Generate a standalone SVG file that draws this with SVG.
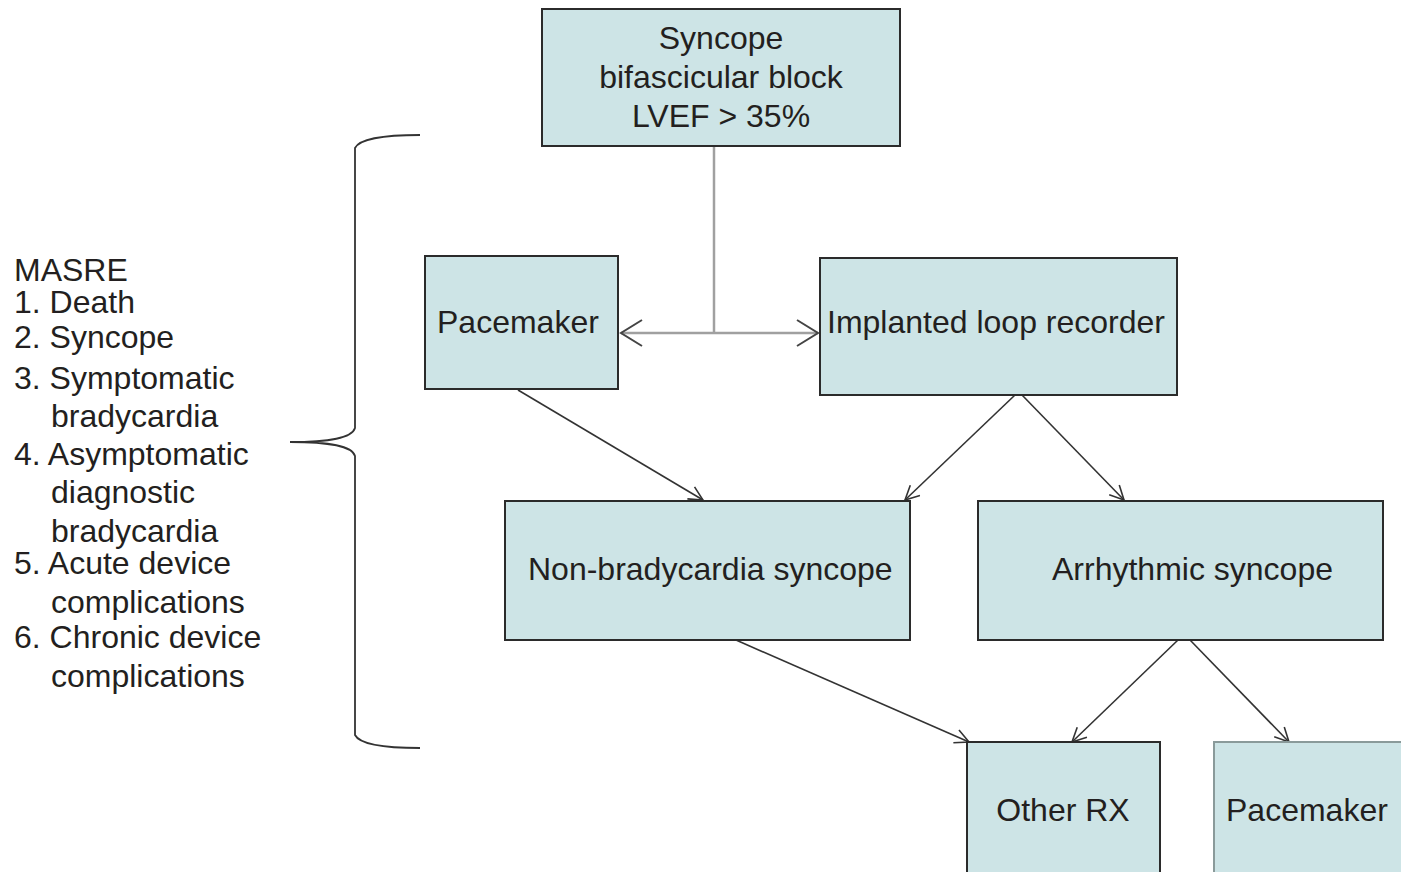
<svg xmlns="http://www.w3.org/2000/svg" width="1401" height="872" viewBox="0 0 1401 872">
<style>
.box{fill:#cde4e6;stroke:#2b2b2b;stroke-width:2}
.t{font-family:"Liberation Sans",Arial,sans-serif;font-size:32px;fill:#231f20}
.c{text-anchor:middle}
.lg{fill:none;stroke:#a0a0a0;stroke-width:2.5}
.ln{fill:none;stroke:#333;stroke-width:1.6}
</style>
<defs>
<marker id="big" viewBox="0 0 24 28" markerWidth="24" markerHeight="28" refX="22" refY="14" orient="auto-start-reverse" markerUnits="userSpaceOnUse">
<path d="M1,1 L22,14 L1,27" fill="none" stroke="#444" stroke-width="2"/>
</marker>
<marker id="sm" viewBox="0 0 16 16" markerWidth="16" markerHeight="16" refX="15" refY="8" orient="auto" markerUnits="userSpaceOnUse">
<path d="M1,1 L15,8 L1,15" fill="none" stroke="#333" stroke-width="1.6"/>
</marker>
</defs>
<g id="legend">
<text class="t" x="14" y="281">MASRE</text>
<text class="t" x="14" y="313">1. Death</text>
<text class="t" x="14" y="348">2. Syncope</text>
<text class="t" x="14" y="389">3. Symptomatic</text>
<text class="t" x="51" y="427">bradycardia</text>
<text class="t" x="14" y="465">4. Asymptomatic</text>
<text class="t" x="51" y="503">diagnostic</text>
<text class="t" x="51" y="542">bradycardia</text>
<text class="t" x="14" y="574">5. Acute device</text>
<text class="t" x="51" y="613">complications</text>
<text class="t" x="14" y="648">6. Chronic device</text>
<text class="t" x="51" y="687">complications</text>
</g>
<g id="brace">
<path d="M420,135 C385,135 360,138 355,148 L355,428 C352,438 330,442 290,442 C330,442 352,446 355,456 L355,735 C360,745 385,748 420,748" fill="none" stroke="#333" stroke-width="1.8"/>
</g>
<g id="connectors">
<path class="lg" d="M714,146 L714,333"/>
<path class="lg" d="M621,333 L818,333" marker-start="url(#big)" marker-end="url(#big)"/>
<path class="ln" d="M518,390 L703,500" marker-end="url(#sm)"/>
<path class="ln" d="M1015,395 L905,500" marker-end="url(#sm)"/>
<path class="ln" d="M1022,395 L1124,500" marker-end="url(#sm)"/>
<path class="ln" d="M736,640 L969,742" marker-end="url(#sm)"/>
<path class="ln" d="M1178,640 L1072,742" marker-end="url(#sm)"/>
<path class="ln" d="M1190,640 L1289,742" marker-end="url(#sm)"/>
</g>
<g id="n-top">
<rect class="box" x="542" y="9" width="358" height="137"/>
<text class="t c" x="721" y="49">Syncope</text>
<text class="t c" x="721" y="88">bifascicular block</text>
<text class="t c" x="721" y="127">LVEF &gt; 35%</text>
</g>
<g id="n-pacemaker">
<rect class="box" x="425" y="256" width="193" height="133"/>
<text class="t" x="437" y="333">Pacemaker</text>
</g>
<g id="n-ilr">
<rect class="box" x="820" y="258" width="357" height="137"/>
<text class="t" x="827" y="333">Implanted loop recorder</text>
</g>
<g id="n-nonbrady">
<rect class="box" x="505" y="501" width="405" height="139"/>
<text class="t" x="528" y="580">Non-bradycardia syncope</text>
</g>
<g id="n-arrhythmic">
<rect class="box" x="978" y="501" width="405" height="139"/>
<text class="t" x="1052" y="580">Arrhythmic syncope</text>
</g>
<g id="n-otherrx">
<rect class="box" x="967" y="742" width="193" height="140"/>
<text class="t c" x="1063" y="821">Other RX</text>
</g>
<g id="n-pacemaker2">
<rect class="box" x="1214" y="742" width="200" height="140" style="stroke:#8a9a9a"/>
<text class="t" x="1226" y="821">Pacemaker</text>
</g>
</svg>
